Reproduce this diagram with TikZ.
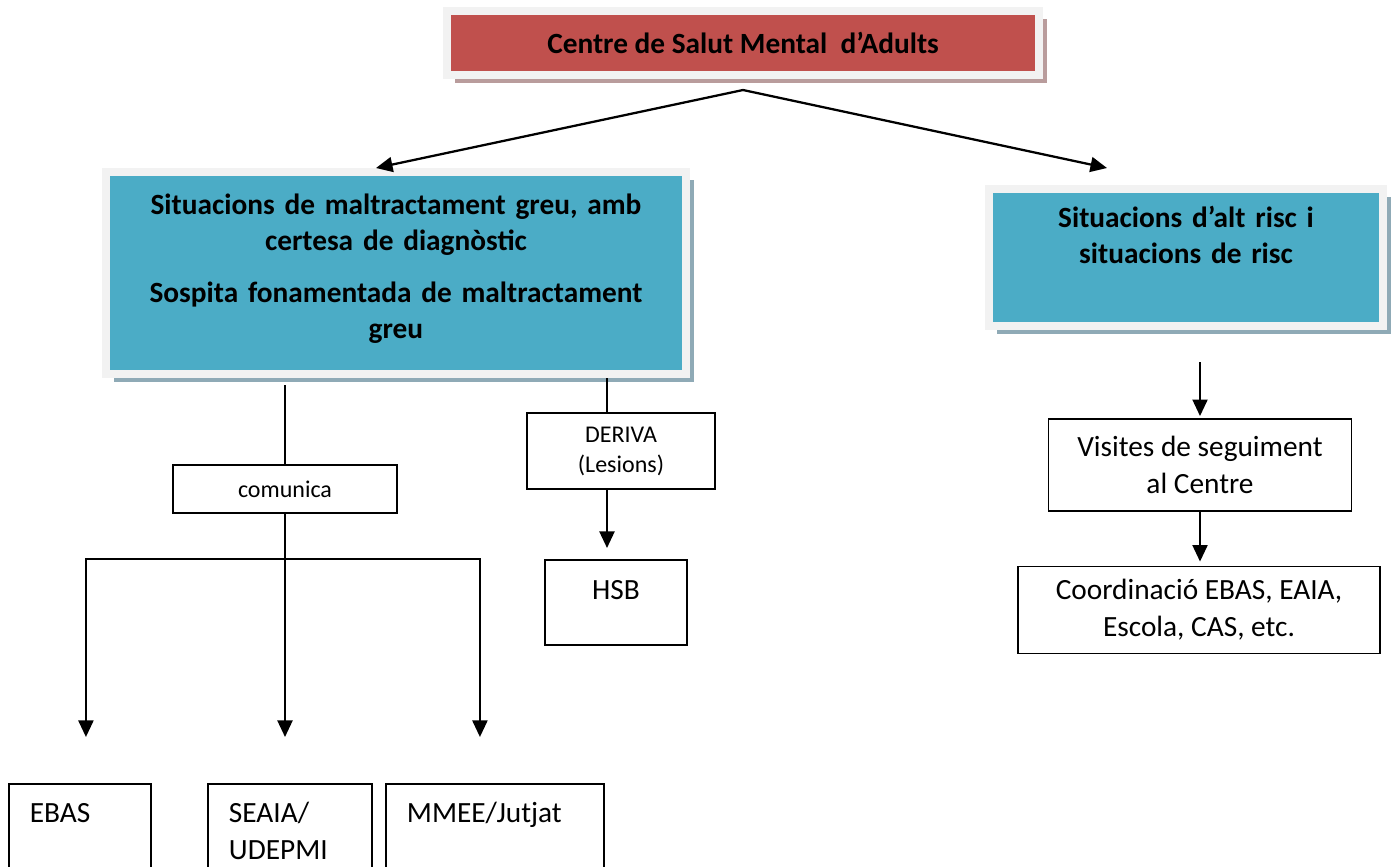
\documentclass[tikz,border=0pt]{standalone}
\usepackage{fontspec}
\setmainfont{Carlito}
\usetikzlibrary{arrows.meta, shadows}

\definecolor{csmred}{HTML}{C0504D}
\definecolor{casecyan}{HTML}{4BACC6}
\definecolor{framegray}{HTML}{F2F2F2}
\definecolor{redshade}{HTML}{B99C9C}
\definecolor{cyanshade}{HTML}{8FAAB6}

\newdimen\pxu
\pxu=0.375pt

\begin{document}
\begin{tikzpicture}[
  x=0.375pt, y=-0.375pt,
  txt/.style={font=\fontsize{11}{13.75}\selectfont},
  small/.style={font=\fontsize{9}{11.25}\selectfont},
  plain/.style={draw, line width=0.7pt, fill=white},
  topbox/.style={draw=framegray, line width=8\pxu, fill=csmred,
    drop shadow={shadow xshift=8\pxu, shadow yshift=-8\pxu, fill=redshade, opacity=1},
    font=\bfseries\fontsize{11}{13.5}\selectfont},
  casebox/.style={draw=framegray, line width=8\pxu, fill=casecyan,
    drop shadow={shadow xshift=8\pxu, shadow yshift=-8\pxu, fill=cyanshade, opacity=1},
    font=\bfseries\fontsize{11}{13.5}\selectfont,
    align=center, inner xsep=10\pxu, inner ysep=0pt, anchor=north},
  dest/.style={plain, txt, anchor=north west, align=left, inner xsep=21\pxu,
    inner ysep=0pt, text height=39\pxu, text depth=53\pxu},
  link/.style={line width=0.85pt},
  arr/.style={link, -{Triangle[length=6.2pt, width=5.6pt]}}
]
\useasboundingbox (0,0) rectangle (1393,866);

% Centre
\node[topbox, minimum width=592\pxu, minimum height=64\pxu] (csma) at (743,43) {Centre de Salut Mental\ \ d’Adults};

% The two kinds of situation
\node[casebox, text width=560\pxu, text height=42\pxu, text depth=160\pxu] (greu) at (396,168)
  {Situacions de maltractament greu, amb\\ certesa de diagnòstic\\[6pt] Sospita fonamentada de maltractament\\ greu};
\node[casebox, text width=374\pxu, text height=38\pxu, text depth=99\pxu] (risc) at (1186,185)
  {Situacions d’alt risc i\\ situacions de risc};

% Left side
\node[plain, small, minimum width=224\pxu, minimum height=48\pxu] (comunica) at (285,489) {comunica};
\node[plain, small, align=center, minimum width=188\pxu, minimum height=76\pxu] (deriva) at (621,451) {DERIVA\\(Lesions)};
\node[plain, txt, anchor=north, text width=122\pxu, align=center, inner xsep=10\pxu, inner ysep=0pt,
  text height=40\pxu, text depth=45\pxu] (hsb) at (616,559) {HSB};

\node[dest, text width=100\pxu] (ebas) at (8,783) {EBAS};
\node[dest, text width=122\pxu] (seaia) at (207,783) {SEAIA/\\UDEPMI};
\node[dest, text width=176\pxu] (mmee) at (385,783) {MMEE/Jutjat};

% Right side
\node[plain, txt, align=center, minimum width=303\pxu, minimum height=92\pxu] (visites) at (1200,465) {Visites de seguiment\\ al Centre};
\node[plain, txt, align=center, minimum width=362\pxu, minimum height=87\pxu] (coord) at (1199,610) {Coordinació EBAS, EAIA,\\ Escola, CAS, etc.};

% Arrows from the centre
\draw[arr] ([yshift=-11\pxu]csma.south) -- ([xshift=-20\pxu]greu.north);
\draw[arr] ([yshift=-11\pxu]csma.south) -- ([xshift=-79\pxu, yshift=17\pxu]risc.north);

% comunica and its three branches
\coordinate (hub) at (285,559);
\draw[link, shorten <=7\pxu] (greu.south -| comunica) -- (comunica.north);
\draw[link] (comunica.south) -- (hub);
\draw[arr, shorten >=46\pxu] (hub) -| ([xshift=6\pxu]ebas.north);
\draw[arr, shorten >=46\pxu] (hub) -- (hub |- seaia.north);
\draw[arr, shorten >=46\pxu] (hub) -| ([xshift=-15\pxu]mmee.north);

% deriva
\coordinate (tap) at ([xshift=-14\pxu]deriva.north);
\draw[link] (tap |- greu.south) -- (tap);
\draw[arr, shorten >=11\pxu] (tap |- deriva.south) -- (tap |- hsb.north);

% follow-up
\draw[arr, shorten <=32\pxu, shorten >=2\pxu] (risc.south -| visites.north) -- (visites.north);
\draw[arr, shorten >=4\pxu] (visites.south) -- (visites.south |- coord.north);

\end{tikzpicture}
\end{document}
